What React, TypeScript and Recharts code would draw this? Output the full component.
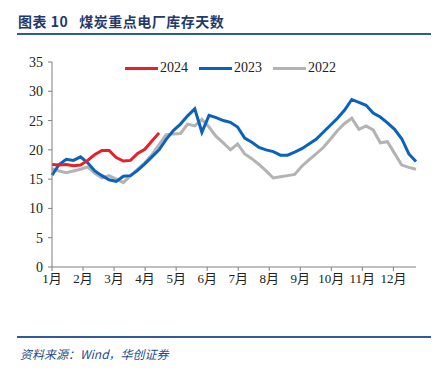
import React from "react";
import { LineChart, Line, XAxis, YAxis } from "recharts";

// 周度数据，第 0 周 = 1 月初
const v2024 = [17.5, 17.4, 17.5, 17.3, 17.4, 18.2, 19.2, 19.9, 19.9, 18.7, 18.1, 18.2, 19.4, 20.1, 21.5, 22.9];
const v2023 = [
  15.7, 17.5, 18.4, 18.2, 18.8, 17.8, 16.4, 15.6, 14.9, 14.6, 15.5, 15.6, 16.5,
  17.6, 18.8, 20.0, 21.8, 23.3, 24.4, 25.8, 27.0, 23.0, 25.9, 25.5, 25.0, 24.7,
  23.9, 22.0, 21.3, 20.4, 20.0, 19.7, 19.1, 19.1, 19.6, 20.2, 21.0, 21.8, 23.0,
  24.2, 25.4, 26.8, 28.6, 28.1, 27.6, 26.3, 25.6, 24.6, 23.5, 21.9, 19.3, 18.0,
];
const v2022 = [
  16.8, 16.4, 16.1, 16.4, 16.7, 17.1, 16.0, 15.2, 15.6, 15.0, 14.4, 15.6, 16.7,
  17.8, 19.2, 20.9, 22.6, 22.7, 22.8, 24.4, 24.1, 25.2, 23.9, 22.3, 21.2, 20.0,
  21.0, 19.3, 18.5, 17.5, 16.4, 15.2, 15.4, 15.6, 15.8, 17.2, 18.3, 19.3, 20.4,
  21.8, 23.3, 24.5, 25.4, 23.5, 24.1, 23.4, 21.2, 21.4, 19.4, 17.4, 17.0, 16.7,
];
const monthLabels = ["1月", "2月", "3月", "4月", "5月", "6月", "7月", "8月", "9月", "10月", "11月", "12月"];
const yTicks = [0, 5, 10, 15, 20, 25, 30, 35];

const WEEKS_PER_MONTH = 30.44 / 7;
const monthTicks = monthLabels.map((_, i) => i * WEEKS_PER_MONTH);

const data = v2023.map((v, i) => ({
  w: i,
  y2024: i < v2024.length ? v2024[i] : null,
  y2023: v,
  y2022: v2022[i],
}));

const series = [
  { key: "y2022", name: "2022", color: "#b3b3b3" },
  { key: "y2023", name: "2023", color: "#0a62bd" },
  { key: "y2024", name: "2024", color: "#e8202a" },
];

const serif = "Liberation Serif, Noto Sans CJK SC, serif";
const axisColor = "#7f7f7f";

export default function App() {
  const legend = [
    { name: "2024", color: "#e8202a", x: 125 },
    { name: "2023", color: "#0a62bd", x: 199 },
    { name: "2022", color: "#b3b3b3", x: 273 },
  ];
  return (
    <div
      style={{
        position: "fixed",
        left: 0,
        top: 0,
        width: 446,
        height: 372,
        background: "#fff",
        overflow: "hidden",
      }}
    >
      <div
        style={{
          position: "absolute",
          left: 18,
          top: 11,
          fontFamily: "'Noto Sans CJK SC', sans-serif",
          fontWeight: 700,
          fontSize: 14,
          letterSpacing: 0.5,
          color: "#1f3a6b",
          whiteSpace: "pre",
          lineHeight: "20px",
        }}
      >
        {"图表 10   煤炭重点电厂库存天数"}
      </div>
      <div
        style={{
          position: "absolute",
          left: 17,
          top: 33,
          width: 414,
          height: 2,
          background: "#2f5b98",
        }}
      />
      <LineChart
        width={446}
        height={372}
        data={data}
        margin={{ top: 62, right: 30, bottom: 75, left: 12 }}
      >
        <XAxis
          dataKey="w"
          type="number"
          domain={[0, 51]}
          ticks={monthTicks}
          tickFormatter={(v) => monthLabels[Math.round(v / WEEKS_PER_MONTH)]}
          interval={0}
          stroke={axisColor}
          tickSize={4}
          tickMargin={3}
          tick={{ fill: "#222", fontSize: 13, fontFamily: serif }}
        />
        <YAxis
          width={40}
          domain={[0, 35]}
          ticks={yTicks}
          interval={0}
          stroke={axisColor}
          tickSize={4}
          tickMargin={5}
          tick={{ fill: "#222", fontSize: 14, fontFamily: serif }}
        />
        {series.map((s) => (
          <Line
            key={s.key}
            dataKey={s.key}
            name={s.name}
            stroke={s.color}
            strokeWidth={3}
            dot={false}
            type="linear"
            isAnimationActive={false}
          />
        ))}
      </LineChart>
      {legend.map((l) => (
        <div key={l.name}>
          <div
            style={{
              position: "absolute",
              left: l.x,
              top: 67,
              width: 33,
              height: 3,
              background: l.color,
            }}
          />
          <div
            style={{
              position: "absolute",
              left: l.x + 35,
              top: 60,
              fontFamily: serif,
              fontSize: 14,
              color: "#222",
              lineHeight: "16px",
            }}
          >
            {l.name}
          </div>
        </div>
      ))}
      <div
        style={{
          position: "absolute",
          left: 17,
          top: 336,
          width: 414,
          height: 2,
          background: "#2f5b98",
        }}
      />
      <div
        style={{
          position: "absolute",
          left: 20,
          top: 345,
          fontFamily: "'Noto Sans CJK SC', sans-serif",
          fontStyle: "italic",
          fontSize: 12,
          color: "#1f4e8c",
          whiteSpace: "nowrap",
          lineHeight: "18px",
        }}
      >
        资料来源：Wind，华创证券
      </div>
    </div>
  );
}
